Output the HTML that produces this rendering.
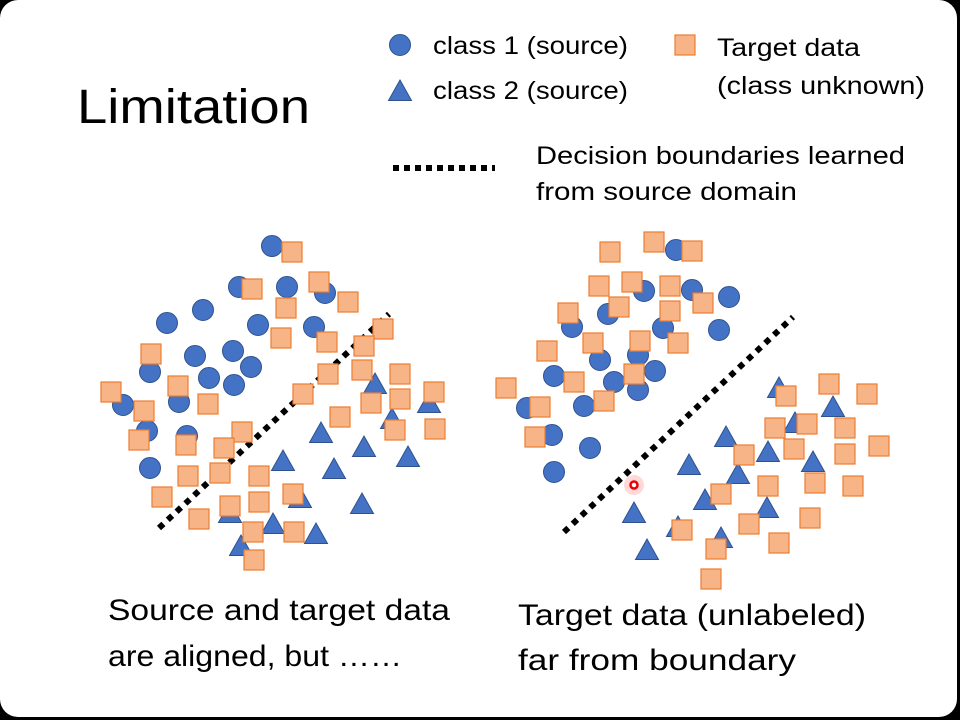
<!DOCTYPE html>
<html><head><meta charset="utf-8"><style>
html,body{margin:0;padding:0;background:#000;width:960px;height:720px;overflow:hidden}
.slide{position:absolute;left:0;top:0;width:957px;height:717px;background:#fff;border-radius:18px}
svg{position:absolute;left:0;top:0}
text{font-family:"Liberation Sans","DejaVu Sans",sans-serif;fill:#000}
</style></head><body><div class="slide"></div>
<svg width="960" height="720" viewBox="0 0 960 720">
<defs>
<circle id="c" r="10.5" fill="#4472C4" stroke="#2F528F" stroke-width="1"/>
<path id="t" d="M0,-11 L11.5,9.5 L-11.5,9.5 Z" fill="#4472C4" stroke="#2F528F" stroke-width="1"/>
<rect id="s" x="-10" y="-10" width="20" height="20" fill="#F6B487" stroke="#ED7D31" stroke-width="1.2"/>
</defs>
<text x="77" y="123" font-size="48" textLength="233" lengthAdjust="spacingAndGlyphs">Limitation</text>
<use href="#c" x="400" y="45"/>
<text x="433" y="54" font-size="25" textLength="195" lengthAdjust="spacingAndGlyphs">class 1 (source)</text>
<use href="#t" x="400" y="91"/>
<text x="433" y="99" font-size="25" textLength="195" lengthAdjust="spacingAndGlyphs">class 2 (source)</text>
<use href="#s" x="685" y="45"/>
<text x="717" y="56" font-size="25" textLength="143" lengthAdjust="spacingAndGlyphs">Target data</text>
<text x="717" y="94" font-size="25" textLength="208" lengthAdjust="spacingAndGlyphs">(class unknown)</text>
<line x1="393" y1="168" x2="495" y2="168" stroke="#000" stroke-width="6" stroke-dasharray="6 5"/>
<text x="536" y="164" font-size="25" textLength="369" lengthAdjust="spacingAndGlyphs">Decision boundaries learned</text>
<text x="536" y="200" font-size="25" textLength="261" lengthAdjust="spacingAndGlyphs">from source domain</text>
<text x="108" y="620" font-size="30" textLength="342" lengthAdjust="spacingAndGlyphs">Source and target data</text>
<text x="108" y="666" font-size="30" textLength="294" lengthAdjust="spacingAndGlyphs">are aligned, but ……</text>
<text x="518" y="625" font-size="30" textLength="348" lengthAdjust="spacingAndGlyphs">Target data (unlabeled)</text>
<text x="518" y="670" font-size="30" textLength="278" lengthAdjust="spacingAndGlyphs">far from boundary</text>

<g>
<use href="#c" x="272" y="246"/><use href="#c" x="239" y="287"/><use href="#c" x="287" y="287"/><use href="#c" x="325" y="293"/><use href="#c" x="203" y="310"/><use href="#c" x="167" y="323"/><use href="#c" x="258" y="325"/><use href="#c" x="314" y="327"/><use href="#c" x="195" y="356"/><use href="#c" x="233" y="351"/><use href="#c" x="251" y="367"/><use href="#c" x="150" y="372"/><use href="#c" x="209" y="378"/><use href="#c" x="234" y="385"/><use href="#c" x="123" y="405"/><use href="#c" x="179" y="402"/><use href="#c" x="147" y="431"/><use href="#c" x="150" y="468"/><use href="#c" x="187" y="436"/>
<use href="#t" x="375" y="384"/><use href="#t" x="429" y="403"/><use href="#t" x="392" y="419"/><use href="#t" x="321" y="433"/><use href="#t" x="364" y="447"/><use href="#t" x="408" y="457"/><use href="#t" x="283" y="461"/><use href="#t" x="334" y="469"/><use href="#t" x="300" y="498"/><use href="#t" x="362" y="504"/><use href="#t" x="230" y="513"/><use href="#t" x="273" y="524"/><use href="#t" x="316" y="534"/><use href="#t" x="241" y="546"/>
<line x1="159" y1="528" x2="389" y2="314" stroke="#000" stroke-width="6" stroke-dasharray="6 6"/>
<use href="#s" x="292" y="252"/><use href="#s" x="252" y="289"/><use href="#s" x="319" y="282"/><use href="#s" x="348" y="302"/><use href="#s" x="286" y="308"/><use href="#s" x="281" y="338"/><use href="#s" x="327" y="342"/><use href="#s" x="383" y="329"/><use href="#s" x="364" y="346"/><use href="#s" x="151" y="354"/><use href="#s" x="178" y="386"/><use href="#s" x="111" y="392"/><use href="#s" x="144" y="411"/><use href="#s" x="208" y="404"/><use href="#s" x="303" y="394"/><use href="#s" x="328" y="374"/><use href="#s" x="362" y="370"/><use href="#s" x="400" y="374"/><use href="#s" x="400" y="399"/><use href="#s" x="371" y="403"/><use href="#s" x="434" y="392"/><use href="#s" x="340" y="417"/><use href="#s" x="395" y="430"/><use href="#s" x="435" y="429"/><use href="#s" x="139" y="440"/><use href="#s" x="186" y="445"/><use href="#s" x="242" y="432"/><use href="#s" x="224" y="448"/><use href="#s" x="188" y="476"/><use href="#s" x="220" y="473"/><use href="#s" x="259" y="476"/><use href="#s" x="162" y="497"/><use href="#s" x="199" y="519"/><use href="#s" x="230" y="506"/><use href="#s" x="259" y="502"/><use href="#s" x="293" y="494"/><use href="#s" x="253" y="532"/><use href="#s" x="294" y="532"/><use href="#s" x="254" y="560"/>
</g>
<g>
<use href="#c" x="676" y="250"/><use href="#c" x="644" y="291"/><use href="#c" x="692" y="290"/><use href="#c" x="729" y="297"/><use href="#c" x="608" y="314"/><use href="#c" x="572" y="327"/><use href="#c" x="663" y="328"/><use href="#c" x="719" y="330"/><use href="#c" x="600" y="360"/><use href="#c" x="638" y="355"/><use href="#c" x="655" y="371"/><use href="#c" x="554" y="376"/><use href="#c" x="614" y="382"/><use href="#c" x="638" y="390"/><use href="#c" x="527" y="408"/><use href="#c" x="584" y="406"/><use href="#c" x="552" y="435"/><use href="#c" x="590" y="448"/><use href="#c" x="554" y="472"/>
<use href="#t" x="779" y="388"/><use href="#t" x="833" y="407"/><use href="#t" x="795" y="423"/><use href="#t" x="726" y="437"/><use href="#t" x="768" y="452"/><use href="#t" x="813" y="462"/><use href="#t" x="689" y="465"/><use href="#t" x="738" y="474"/><use href="#t" x="705" y="500"/><use href="#t" x="767" y="508"/><use href="#t" x="634" y="513"/><use href="#t" x="678" y="527"/><use href="#t" x="721" y="538"/><use href="#t" x="647" y="550"/>
<line x1="564" y1="532" x2="793" y2="317" stroke="#000" stroke-width="6" stroke-dasharray="6 6"/>
<circle cx="634" cy="485" r="10" fill="#ff9090" opacity="0.35"/>
<circle cx="634" cy="485" r="3.5" fill="#fff" stroke="#e00" stroke-width="2.5"/>
<use href="#s" x="654" y="242"/><use href="#s" x="610" y="252"/><use href="#s" x="692" y="251"/><use href="#s" x="599" y="286"/><use href="#s" x="632" y="282"/><use href="#s" x="670" y="286"/><use href="#s" x="703" y="303"/><use href="#s" x="619" y="307"/><use href="#s" x="568" y="313"/><use href="#s" x="670" y="311"/><use href="#s" x="593" y="343"/><use href="#s" x="640" y="341"/><use href="#s" x="678" y="343"/><use href="#s" x="547" y="351"/><use href="#s" x="574" y="382"/><use href="#s" x="634" y="374"/><use href="#s" x="604" y="401"/><use href="#s" x="506" y="388"/><use href="#s" x="540" y="407"/><use href="#s" x="535" y="437"/>
<use href="#s" x="786" y="396"/><use href="#s" x="829" y="384"/><use href="#s" x="867" y="394"/><use href="#s" x="775" y="428"/><use href="#s" x="807" y="424"/><use href="#s" x="845" y="428"/><use href="#s" x="794" y="449"/><use href="#s" x="845" y="454"/><use href="#s" x="879" y="446"/><use href="#s" x="744" y="455"/><use href="#s" x="768" y="486"/><use href="#s" x="815" y="483"/><use href="#s" x="853" y="486"/><use href="#s" x="721" y="494"/><use href="#s" x="810" y="518"/><use href="#s" x="749" y="524"/><use href="#s" x="682" y="530"/><use href="#s" x="716" y="549"/><use href="#s" x="779" y="543"/><use href="#s" x="711" y="579"/>
</g>
</svg>
</body></html>
